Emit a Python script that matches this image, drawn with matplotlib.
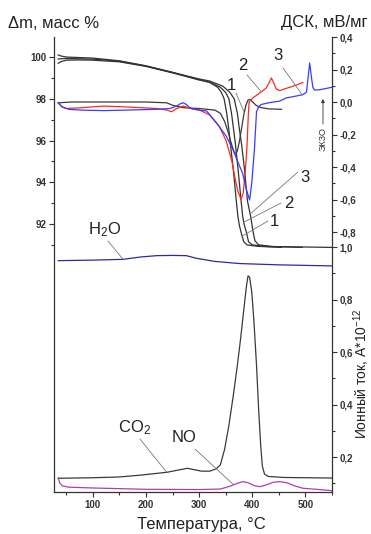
import numpy as np
import matplotlib
matplotlib.use("Agg")
import matplotlib.pyplot as plt

plt.rcParams['font.family'] = ['Liberation Sans', 'DejaVu Sans']
plt.rcParams['mathtext.default'] = 'regular'

# --- TG (mass, %) ---
t_m1 = [35, 40, 50, 70, 100, 150, 200, 250, 300, 320, 335, 342, 347, 352, 356, 359, 364, 370, 373, 376, 379, 384, 390, 410, 455]
m1 = [100.1, 100.05, 100.0, 99.98, 99.95, 99.82, 99.58, 99.27, 98.92, 98.78, 98.55, 98.3, 98.0, 97.3, 96.5, 95.8, 94.7, 93.1, 92.36, 91.9, 91.6, 91.15, 91.0, 90.93, 90.88]
t_m2 = [35, 40, 50, 70, 100, 150, 200, 250, 300, 320, 340, 350, 356, 361, 365, 368, 373, 379, 382, 385, 389, 393, 400, 430, 494]
m2 = [99.7, 99.78, 99.85, 99.86, 99.85, 99.77, 99.55, 99.24, 98.9, 98.8, 98.55, 98.3, 98.0, 97.3, 96.5, 95.9, 94.7, 93.1, 92.36, 91.95, 91.6, 91.15, 91.0, 90.92, 90.88]
t_m3 = [35, 40, 50, 70, 100, 150, 200, 250, 300, 320, 345, 358, 366, 372, 376, 380, 385, 391, 397, 401, 405, 412, 440, 549]
m3 = [99.9, 99.92, 99.93, 99.92, 99.9, 99.8, 99.57, 99.26, 98.95, 98.85, 98.6, 98.3, 98.0, 97.3, 96.5, 95.8, 94.7, 93.1, 92.36, 91.7, 91.2, 91.0, 90.92, 90.88]

# --- DSC (mV/mg) ---
t_d1 = [35, 60, 100, 150, 200, 239, 250, 270, 300, 315, 330, 340, 348, 355, 361, 366, 369, 372, 376, 380, 384, 388, 392, 396, 401, 407, 415, 430, 455]
d1 = [-0.005, 0.0, 0.0, 0.0, 0.0, -0.005, -0.02, -0.035, -0.04, -0.045, -0.05, -0.07, -0.12, -0.19, -0.26, -0.31, -0.32, -0.3, -0.24, -0.16, -0.08, -0.02, 0.012, 0.015, 0.0, -0.02, -0.033, -0.042, -0.045]
t_d2 = [35, 42, 50, 80, 120, 160, 220, 240, 248, 258, 270, 285, 301, 320, 338, 351, 357, 362, 367, 373, 379, 383, 387, 390, 392, 394, 401, 413, 426, 432, 436, 440, 445, 452, 460, 475, 495]
d2 = [-0.005, -0.03, -0.04, -0.035, -0.025, -0.03, -0.04, -0.05, -0.06, -0.04, -0.025, -0.04, -0.05, -0.08, -0.15, -0.24, -0.31, -0.37, -0.46, -0.55, -0.6, -0.56, -0.42, -0.28, -0.12, 0.0, 0.025, 0.053, 0.085, 0.12, 0.148, 0.12, 0.08, 0.07, 0.08, 0.095, 0.12]
t_d3 = [35, 42, 55, 80, 120, 160, 220, 245, 258, 265, 270, 276, 282, 290, 300, 314, 333, 351, 364, 373, 382, 389, 395, 399, 404, 408, 412, 417, 432, 451, 464, 480, 495, 502, 505, 508, 511, 514, 517, 526, 549]
d3 = [-0.005, -0.03, -0.045, -0.05, -0.053, -0.05, -0.045, -0.04, -0.025, -0.01, -0.005, -0.015, -0.035, -0.045, -0.05, -0.055, -0.13, -0.21, -0.295, -0.37, -0.44, -0.54, -0.603, -0.5, -0.295, -0.06, -0.03, -0.015, -0.004, 0.005, 0.025, 0.035, 0.045, 0.06, 0.15, 0.24, 0.16, 0.09, 0.074, 0.075, 0.09]

# --- MS ion current (A*1e-12) ---
t_h2o = [35, 100, 157, 190, 220, 250, 276, 295, 330, 376, 450, 549]
h2o = [0.948, 0.95, 0.953, 0.962, 0.967, 0.968, 0.967, 0.957, 0.945, 0.937, 0.932, 0.928]
t_co2 = [35, 100, 150, 190, 240, 265, 278, 290, 305, 320, 332, 340, 348, 356, 364, 372, 378, 384, 389, 392, 395, 399, 403, 408, 412, 416, 419, 423, 430, 460, 549]
co2 = [0.119, 0.121, 0.124, 0.131, 0.142, 0.152, 0.157, 0.152, 0.146, 0.146, 0.155, 0.17, 0.23, 0.32, 0.43, 0.55, 0.65, 0.76, 0.85, 0.89, 0.885, 0.83, 0.72, 0.55, 0.38, 0.24, 0.165, 0.135, 0.126, 0.122, 0.12]
t_no = [35, 38, 43, 55, 100, 200, 300, 340, 360, 372, 382, 392, 405, 415, 425, 440, 452, 465, 480, 495, 520, 549]
no = [0.12, 0.1, 0.09, 0.085, 0.082, 0.077, 0.076, 0.078, 0.09, 0.1, 0.106, 0.102, 0.09, 0.087, 0.093, 0.104, 0.106, 0.102, 0.09, 0.081, 0.077, 0.072]

x_ticks = [100, 200, 300, 400, 500]
m_ticks = [92, 94, 96, 98, 100]
dsc_ticks = [-0.8, -0.6, -0.4, -0.2, 0.0, 0.2, 0.4]
ms_ticks = [0.2, 0.4, 0.6, 0.8, 1.0]

W, H = 371, 534
L, R, T, B = 54, 332, 37, 492


def px(x, y):
    return (x / W, 1 - y / H)


def comma(v):
    return ('%.1f' % v).replace('.', ',')


fig = plt.figure(figsize=(W / 100, H / 100), dpi=100)
ax = fig.add_axes([L / W, 1 - B / H, (R - L) / W, (B - T) / H])
ax2 = ax.twinx()
ax3 = ax.twinx()
for a in (ax, ax2, ax3):
    a.set_xlim(27, 549)
    a.patch.set_visible(False)
    for s in a.spines.values():
        s.set_visible(False)
        s.set_linewidth(0.9)
        s.set_color('#333333')
    a.tick_params(which='both', direction='out', width=0.8, color='#333333',
                  labelsize=7, labelcolor='#333333', pad=2)
    a.tick_params(which='major', length=3.5)
    a.tick_params(which='minor', length=2)
ax.spines['left'].set_visible(True)
ax.spines['bottom'].set_visible(True)
ax3.spines['right'].set_visible(True)

ax.set_ylim(79.16, 100.96)
ax2.set_ylim(-2.4, 0.4)
ax3.set_ylim(0.0667, 1.8)

ax.set_xticks(x_ticks, labels=[str(v) for v in x_ticks], fontweight='bold')
ax.set_xticks(np.arange(50, 551, 100), minor=True)
ax.set_yticks(m_ticks, labels=[str(v) for v in m_ticks], fontweight='bold')
ax.set_yticks([91, 93, 95, 97, 99], minor=True)
ax2.set_yticks(dsc_ticks, labels=[comma(v) for v in dsc_ticks], fontweight='bold')
ax2.set_yticks(np.arange(-0.7, 0.35, 0.2), minor=True)
ax3.set_yticks(ms_ticks, labels=[comma(v) for v in ms_ticks], fontweight='bold')
ax3.set_yticks(np.arange(0.1, 0.95, 0.2), minor=True)

lw = 0.9
ax.plot(t_m1, m1, color='#333333', lw=lw)
ax.plot(t_m2, m2, color='#333333', lw=lw)
ax.plot(t_m3, m3, color='#333333', lw=lw)
ax2.plot(t_d1, d1, color='#3a3a3a', lw=lw)
ax2.plot(t_d2, d2, color='#ff2a1a', lw=lw)
ax2.plot(t_d3, d3, color='#3b3bff', lw=lw)
ax3.plot(t_h2o, h2o, color='#2a2aa0', lw=lw)
ax3.plot(t_co2, co2, color='#3a3a3a', lw=lw)
ax3.plot(t_no, no, color='#b03cb0', lw=lw)

lead = dict(arrowstyle='-', color='#777777', lw=0.6, shrinkA=0, shrinkB=0)
fs = 12


def label(a, text, tpos, start, t, ts, vs):
    fig.text(*px(*tpos), text, fontsize=fs, ha='center', va='center', color='#222222')
    a.annotate('', xy=(t, np.interp(t, ts, vs)), xycoords='data',
               xytext=px(*start), textcoords='figure fraction', arrowprops=lead)


# DSC labels
label(ax2, '1', (231, 86), (236, 93), 385, t_d1, d1)
label(ax2, '2', (243, 66), (247, 75), 417, t_d2, d2)
label(ax2, '3', (278, 56), (283, 68), 494, t_d3, d3)
# TG labels
label(ax, '3', (305, 177), (298, 172), 396, t_m3, m3)
label(ax, '2', (289, 204), (281, 203), 384, t_m2, m2)
label(ax, '1', (274, 222), (268, 221), 381, t_m1, m1)
# gas labels
label(ax3, 'H$_2$O', (105, 230), (108, 241), 157, t_h2o, h2o)
label(ax3, 'CO$_2$', (135, 428), (140, 439), 239, t_co2, co2)
label(ax3, 'NO', (184, 438), (195, 449), 365, t_no, no)

# exo arrow
fig.text(*px(323, 139), 'ЭКЗО', rotation=90, fontsize=6.5, ha='center', va='center', color='#333333')
ax.annotate('', xy=px(323, 99), xycoords='figure fraction', xytext=px(323, 124),
            textcoords='figure fraction',
            arrowprops=dict(arrowstyle='-|>', color='#333333', lw=0.6,
                            mutation_scale=5, shrinkA=0, shrinkB=0))

fig.text(*px(8, 23), 'Δm, масс %', fontsize=12, ha='left', va='center', color='#222222')
fig.text(*px(368, 23), 'ДСК, мВ/мг', fontsize=12, ha='right', va='center', color='#222222')
fig.text(*px(201, 524), 'Температура, °C', fontsize=12, ha='center', va='center', color='#222222')
fig.text(*px(362, 374), 'Ионный ток, А*10$^{-12}$', fontsize=10, rotation=90,
         ha='center', va='center', color='#222222')

fig.savefig('out.png', dpi=100)
